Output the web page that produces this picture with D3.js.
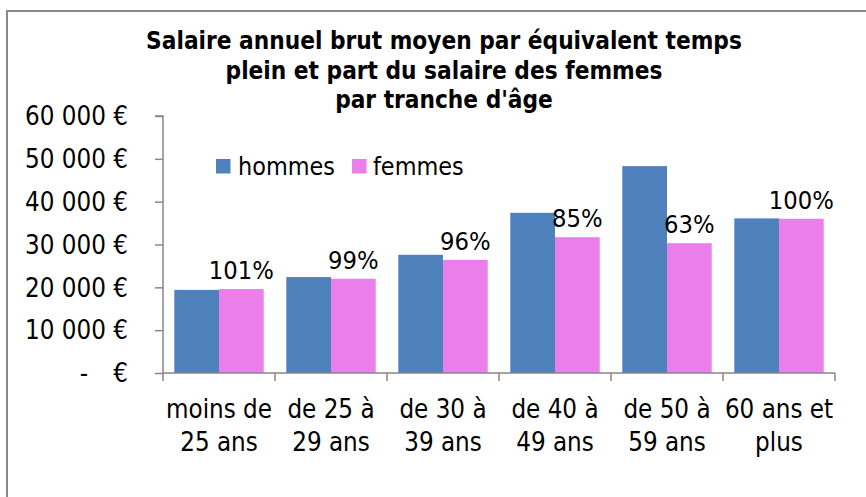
<!DOCTYPE html>
<html><head><meta charset="utf-8">
<script src="https://cdn.jsdelivr.net/npm/d3@7"></script>
<style>
html,body{margin:0;padding:0;background:#fff;}
svg{display:block;}
</style></head>
<body>
<svg id="chart" width="866" height="497"></svg>
<script>
// ---- data ----
const titleLines = ["Salaire annuel brut moyen par équivalent temps", "plein et part du salaire des femmes", "par tranche d'âge"];
const categories = [["moins de", "25 ans"], ["de 25 à", "29 ans"], ["de 30 à", "39 ans"], ["de 40 à", "49 ans"], ["de 50 à", "59 ans"], ["60 ans et", "plus"]];
const seriesNames = ["hommes", "femmes"];
const hommes = [19400, 22400, 27600, 37400, 48300, 36100];
const femmes = [19600, 22000, 26400, 31700, 30300, 36000];
const ratioLabels = ["101%", "99%", "96%", "85%", "63%", "100%"];
const yTicks = [0, 10000, 20000, 30000, 40000, 50000, 60000];
const yTickLabels = ["-  €", "10 000 €", "20 000 €", "30 000 €", "40 000 €", "50 000 €", "60 000 €"];

// ---- style ----
const colors = ["#4F81BD", "#EA7EEA"];
const FONT = "'DejaVu Sans Condensed', 'DejaVu Sans', sans-serif";
const axisColor = "#878787";

const svg = d3.select("#chart");

function fitSize(text, weight, target) {
  const t = svg.append("text").attr("font-family", FONT).attr("font-weight", weight)
    .attr("font-size", 100).text(text);
  const w = t.node().getComputedTextLength();
  t.remove();
  return 100 * target / w;
}
const titleSize = fitSize(titleLines[0], "bold", 596);
const yLabSize = fitSize("60 000 €", "normal", 103);
const xLabSize = fitSize("moins de", "normal", 106);
const legSize = fitSize("hommes", "normal", 97);
const pctSize = fitSize("101%", "normal", 65);

// frame
svg.append("rect").attr("x", 7).attr("y", 11).attr("width", 1000).attr("height", 1000)
  .attr("fill", "none").attr("stroke", "#888").attr("stroke-width", 2);

// scales
const plotL = 163, plotR = 835, plotB = 373, plotT = 116;
const y = d3.scaleLinear().domain([0, 60000]).range([plotB, plotT]);
const x0 = d3.scaleBand().domain(d3.range(categories.length)).range([plotL, plotR]).padding(0);
const x1 = d3.scaleBand().domain(seriesNames).range([0, x0.bandwidth()]).paddingOuter(0.253).paddingInner(0);

// bars
const data = categories.map((c, i) => ({i, vals: [hommes[i], femmes[i]]}));
const g = svg.append("g");
const groups = g.selectAll("g.grp").data(data).join("g")
  .attr("transform", d => `translate(${x0(d.i)},0)`);
groups.selectAll("rect").data(d => d.vals.map((v, k) => ({v, k})))
  .join("rect")
  .attr("x", d => x1(seriesNames[d.k]))
  .attr("width", x1.bandwidth())
  .attr("y", d => y(d.v))
  .attr("height", d => plotB - y(d.v))
  .attr("fill", d => colors[d.k]);

// percentage labels
groups.append("text")
  .attr("x", x1("femmes") + x1.bandwidth() / 2)
  .attr("y", d => y(d.vals[1]) - 10)
  .attr("text-anchor", "middle")
  .attr("font-family", FONT).attr("font-size", pctSize).attr("fill", "#000")
  .text(d => ratioLabels[d.i]);

// y axis
const yAxis = d3.axisLeft(y).tickValues(yTicks).tickSize(8).tickFormat("");
const ya = svg.append("g").attr("transform", `translate(${plotL},0)`).call(yAxis);
ya.selectAll("path,line").attr("stroke", axisColor).attr("stroke-width", 1.5);
ya.select(".domain").attr("d", `M-8,${plotT}H0V${plotB}`);
yTicks.forEach((v, i) => {
  const lab = yTickLabels[i];
  const yy = y(v);
  if (lab.startsWith("-")) {
    svg.append("text").attr("x", 128).attr("y", yy).attr("dy", "0.36em").attr("text-anchor", "end")
      .attr("font-family", FONT).attr("font-size", yLabSize).text("€");
    svg.append("text").attr("x", 84).attr("y", yy).attr("dy", "0.36em").attr("text-anchor", "middle")
      .attr("font-family", FONT).attr("font-size", yLabSize).text("-");
  } else {
    svg.append("text").attr("x", 128).attr("y", yy).attr("dy", "0.36em").attr("text-anchor", "end")
      .attr("font-family", FONT).attr("font-size", yLabSize).text(lab);
  }
});

// x axis
const xa = svg.append("g").attr("transform", `translate(0,${plotB})`);
xa.append("line").attr("x1", plotL).attr("x2", plotR).attr("stroke", axisColor).attr("stroke-width", 1.5);
const bounds = d3.range(categories.length + 1).map(i => i < categories.length ? x0(i) : plotR);
xa.selectAll("line.tk").data(bounds).join("line").attr("class", "tk")
  .attr("x1", d => d).attr("x2", d => d).attr("y1", 0).attr("y2", 8)
  .attr("stroke", axisColor).attr("stroke-width", 1.5);
categories.forEach((c, i) => {
  const cx = x0(i) + x0.bandwidth() / 2;
  c.forEach((line, k) => {
    svg.append("text").attr("x", cx).attr("y", 418 + k * 33).attr("text-anchor", "middle")
      .attr("font-family", FONT).attr("font-size", xLabSize).text(line);
  });
});

// title
titleLines.forEach((t, k) => {
  svg.append("text").attr("x", 444).attr("y", 49 + k * 29.5).attr("text-anchor", "middle")
    .attr("font-family", FONT).attr("font-weight", "bold").attr("font-size", titleSize).text(t);
});

// legend
const legX = [216, 352], legTextX = [238, 373];
seriesNames.forEach((s, k) => {
  svg.append("rect").attr("x", legX[k]).attr("y", 159).attr("width", 14.5).attr("height", 14.5).attr("fill", colors[k]);
  svg.append("text").attr("x", legTextX[k]).attr("y", 175).attr("font-family", FONT)
    .attr("font-size", legSize).text(s);
});
</script>
</body></html>
